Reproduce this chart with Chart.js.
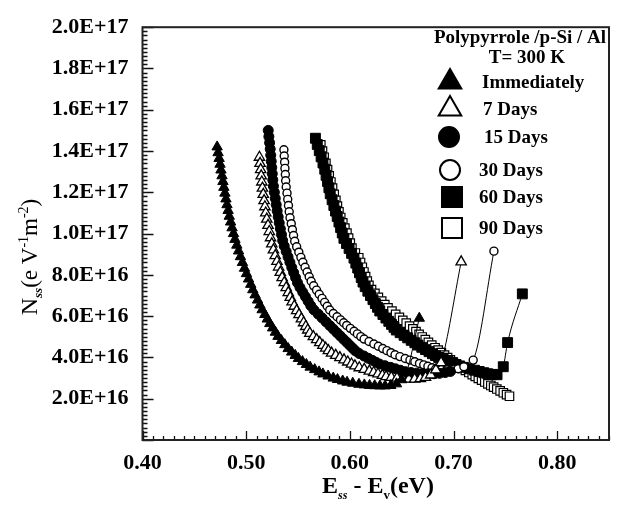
<!DOCTYPE html>
<html><head><meta charset="utf-8">
<script src="https://cdn.jsdelivr.net/npm/chart.js@4.4.0/dist/chart.umd.min.js"></script>
<style>html,body{margin:0;padding:0;background:#fff;}canvas{display:block;}</style>
</head><body>
<canvas id="c" width="617" height="506"></canvas>
<script>
// ---------- DATA (y values in units of 1E+16 eV^-1 m^-2) ----------
const UNIT = 1e16;
const seriesNames = ["Immediately", "7 Days", "15 Days", "30 Days", "60 Days", "90 Days"];

const immX = [0.4720,0.4729,0.4739,0.4748,0.4757,0.4767,0.4776,0.4785,0.4795,0.4805,0.4815,0.4826,0.4837,0.4850,0.4864,0.4878,0.4892,0.4910,0.4927,0.4945,0.4964,0.4984,0.5003,0.5023,0.5044,0.5064,0.5086,0.5110,0.5132,0.5154,0.5180,0.5204,0.5228,0.5255,0.5282,0.5307,0.5340,0.5373,0.5405,0.5439,0.5473,0.5504,0.5543,0.5581,0.5617,0.5661,0.5703,0.5740,0.5790,0.5840,0.5881,0.5931,0.5973,0.6028,0.6088,0.6140,0.6190,0.6240,0.6290,0.6340,0.6395,0.6450,0.6500,0.6545,0.6670];
const immY = [14.20,13.92,13.64,13.36,13.08,12.80,12.52,12.24,11.96,11.68,11.40,11.12,10.84,10.56,10.28,10.00,9.72,9.44,9.16,8.88,8.60,8.32,8.06,7.80,7.54,7.28,7.03,6.78,6.54,6.31,6.08,5.86,5.64,5.43,5.22,5.02,4.82,4.62,4.43,4.26,4.10,3.95,3.80,3.66,3.53,3.41,3.30,3.20,3.10,3.00,2.93,2.86,2.80,2.75,2.70,2.67,2.645,2.63,2.62,2.62,2.64,2.72,2.92,3.25,5.90];

const d7X = [0.5128,0.5134,0.5140,0.5145,0.5151,0.5157,0.5165,0.5173,0.5181,0.5189,0.5199,0.5211,0.5223,0.5235,0.5247,0.5263,0.5280,0.5297,0.5313,0.5329,0.5347,0.5367,0.5386,0.5406,0.5425,0.5443,0.5464,0.5487,0.5510,0.5533,0.5554,0.5575,0.5594,0.5614,0.5648,0.5680,0.5710,0.5740,0.5767,0.5793,0.5824,0.5864,0.5904,0.5944,0.5980,0.6016,0.6049,0.6091,0.6139,0.6188,0.6230,0.6272,0.6314,0.6350,0.6400,0.6455,0.6510,0.6570,0.6625,0.6680,0.6730,0.6780,0.6830,0.6880,0.7074];
const d7Y = [13.70,13.40,13.10,12.80,12.50,12.20,11.90,11.60,11.30,11.00,10.70,10.40,10.10,9.80,9.50,9.21,8.93,8.65,8.38,8.12,7.87,7.62,7.38,7.14,6.91,6.69,6.48,6.27,6.07,5.87,5.68,5.50,5.33,5.17,5.01,4.86,4.72,4.58,4.45,4.33,4.21,4.10,3.99,3.88,3.78,3.68,3.59,3.50,3.42,3.34,3.27,3.20,3.13,3.07,3.03,3.00,2.97,2.95,2.95,2.97,3.03,3.15,3.40,3.75,8.63];

const d15X = [0.5213,0.5219,0.5226,0.5232,0.5237,0.5242,0.5247,0.5252,0.5257,0.5263,0.5272,0.5281,0.5290,0.5299,0.5309,0.5319,0.5330,0.5341,0.5352,0.5367,0.5386,0.5404,0.5422,0.5440,0.5458,0.5477,0.5495,0.5519,0.5546,0.5572,0.5598,0.5623,0.5654,0.5695,0.5733,0.5771,0.5808,0.5842,0.5876,0.5908,0.5940,0.5971,0.5999,0.6027,0.6053,0.6090,0.6136,0.6178,0.6216,0.6251,0.6286,0.6339,0.6393,0.6440,0.6487,0.6535,0.6590,0.6645,0.6700,0.6755,0.6810,0.6865,0.6920,0.6970];
const d15Y = [15.00,14.70,14.40,14.10,13.80,13.50,13.20,12.90,12.60,12.30,12.00,11.70,11.40,11.10,10.81,10.52,10.23,9.95,9.67,9.40,9.13,8.87,8.61,8.36,8.11,7.86,7.62,7.39,7.16,6.94,6.72,6.51,6.30,6.10,5.91,5.72,5.54,5.37,5.20,5.04,4.88,4.73,4.59,4.45,4.32,4.19,4.07,3.96,3.86,3.77,3.68,3.60,3.52,3.45,3.38,3.31,3.27,3.24,3.22,3.21,3.21,3.23,3.27,3.32];

const d30X = [0.5364,0.5367,0.5371,0.5374,0.5378,0.5381,0.5386,0.5394,0.5401,0.5408,0.5415,0.5423,0.5435,0.5446,0.5457,0.5468,0.5487,0.5508,0.5528,0.5547,0.5568,0.5588,0.5608,0.5627,0.5651,0.5679,0.5705,0.5732,0.5757,0.5782,0.5806,0.5841,0.5877,0.5910,0.5941,0.5970,0.6005,0.6041,0.6073,0.6106,0.6138,0.6185,0.6232,0.6275,0.6318,0.6358,0.6397,0.6436,0.6483,0.6534,0.6580,0.6627,0.6672,0.6713,0.6753,0.6793,0.6828,0.6880,0.6935,0.6990,0.7045,0.7100,0.7190,0.7390];
const d30Y = [14.06,13.76,13.46,13.16,12.86,12.56,12.26,11.96,11.66,11.36,11.06,10.77,10.48,10.19,9.91,9.63,9.36,9.10,8.85,8.61,8.37,8.14,7.91,7.69,7.47,7.26,7.06,6.86,6.67,6.48,6.30,6.13,5.97,5.82,5.68,5.55,5.41,5.27,5.14,5.01,4.89,4.77,4.65,4.54,4.43,4.33,4.23,4.13,4.04,3.95,3.87,3.79,3.71,3.64,3.57,3.50,3.44,3.41,3.40,3.41,3.45,3.55,3.87,9.15];

const d60X = [0.5668,0.5686,0.5705,0.5723,0.5741,0.5758,0.5771,0.5785,0.5798,0.5811,0.5829,0.5846,0.5862,0.5878,0.5895,0.5911,0.5927,0.5943,0.5968,0.5993,0.6017,0.6040,0.6058,0.6076,0.6093,0.6110,0.6127,0.6148,0.6174,0.6199,0.6223,0.6246,0.6267,0.6289,0.6319,0.6348,0.6376,0.6402,0.6426,0.6448,0.6485,0.6523,0.6558,0.6592,0.6627,0.6658,0.6694,0.6730,0.6764,0.6797,0.6827,0.6857,0.6901,0.6946,0.6985,0.7025,0.7059,0.7099,0.7151,0.7203,0.7248,0.7292,0.7330,0.7375,0.7420,0.7480,0.7522,0.7664];
const d60Y = [14.62,14.32,14.02,13.72,13.42,13.12,12.82,12.52,12.22,11.93,11.64,11.36,11.09,10.83,10.56,10.29,10.03,9.77,9.52,9.28,9.04,8.81,8.57,8.33,8.10,7.87,7.65,7.43,7.21,7.00,6.80,6.61,6.43,6.25,6.08,5.91,5.75,5.60,5.46,5.33,5.20,5.07,4.95,4.83,4.71,4.60,4.49,4.38,4.28,4.18,4.09,4.00,3.91,3.82,3.74,3.66,3.59,3.52,3.45,3.38,3.32,3.26,3.21,3.18,3.16,3.55,4.72,7.08];

const d90X = [0.5720,0.5736,0.5752,0.5769,0.5785,0.5801,0.5817,0.5833,0.5849,0.5865,0.5880,0.5895,0.5912,0.5932,0.5952,0.5972,0.5988,0.6004,0.6020,0.6053,0.6086,0.6103,0.6120,0.6136,0.6152,0.6168,0.6184,0.6209,0.6242,0.6275,0.6307,0.6337,0.6368,0.6406,0.6442,0.6478,0.6511,0.6544,0.6576,0.6608,0.6638,0.6668,0.6698,0.6728,0.6758,0.6790,0.6822,0.6852,0.6883,0.6913,0.6943,0.6970,0.6998,0.7023,0.7050,0.7083,0.7115,0.7148,0.7181,0.7210,0.7240,0.7271,0.7302,0.7332,0.7360,0.7387,0.7418,0.7450,0.7481,0.7512,0.7540];
const d90Y = [14.30,14.00,13.70,13.40,13.10,12.80,12.50,12.20,11.90,11.61,11.33,11.05,10.78,10.52,10.27,10.02,9.78,9.54,9.30,9.06,8.83,8.60,8.37,8.14,7.92,7.70,7.49,7.29,7.10,6.91,6.73,6.56,6.40,6.24,6.09,5.94,5.80,5.66,5.52,5.38,5.25,5.12,4.99,4.86,4.73,4.60,4.47,4.35,4.23,4.11,3.99,3.88,3.77,3.67,3.57,3.47,3.37,3.27,3.17,3.08,2.99,2.90,2.81,2.72,2.64,2.56,2.47,2.38,2.29,2.20,2.12];

const xTickValues = [0.40, 0.50, 0.60, 0.70, 0.80];
const yTickValues = [0, 2e16, 4e16, 6e16, 8e16, 1e17, 1.2e17, 1.4e17, 1.6e17, 1.8e17, 2e17];
const legendTitle1 = "Polypyrrole /p-Si / Al";
const legendTitle2 = "T= 300 K";

// ---------- build ----------
const allX = [immX, d7X, d15X, d30X, d60X, d90X];
const allY = [immY, d7Y, d15Y, d30Y, d60Y, d90Y];
const styles = [
  {ps:'triangle', r:6,  bg:'#000', bw:1},
  {ps:'triangle', r:6,  bg:'#fff', bw:1.3},
  {ps:'circle',   r:5,  bg:'#000', bw:1},
  {ps:'circle',   r:4,  bg:'#fff', bw:1.4},
  {ps:'rect',     r:7,  bg:'#000', bw:1},
  {ps:'rect',     r:6,  bg:'#fff', bw:1.2}
];
const datasets = seriesNames.map((name, i) => ({
  label: name,
  data: allX[i].map((x, j) => ({x: x, y: allY[i][j] * UNIT})),
  showLine: true,
  borderColor: '#000',
  borderWidth: 1,
  cubicInterpolationMode: 'monotone',
  pointStyle: styles[i].ps,
  pointRadius: styles[i].r,
  pointBackgroundColor: styles[i].bg,
  pointBorderColor: '#000',
  pointBorderWidth: styles[i].bw
}));

function drawSegs(ctx, segs, cx, baseY) {
  let total = 0;
  segs.forEach(s => { ctx.font = s.f; s.w = ctx.measureText(s.t).width; total += s.w; });
  let x = cx - total / 2;
  ctx.textAlign = 'left'; ctx.textBaseline = 'alphabetic';
  segs.forEach(s => { ctx.font = s.f; ctx.fillText(s.t, x, baseY + (s.dy || 0)); x += s.w; });
}

function legendMarker(ctx, st, x, y) {
  ctx.save();
  ctx.fillStyle = st.bg; ctx.strokeStyle = '#000'; ctx.lineWidth = 2;
  ctx.beginPath();
  if (st.ps === 'triangle') {
    const r = 13;
    ctx.moveTo(x, y - r);
    ctx.lineTo(x + r * 0.866, y + r * 0.5);
    ctx.lineTo(x - r * 0.866, y + r * 0.5);
    ctx.closePath();
  } else if (st.ps === 'circle') {
    ctx.arc(x, y, 10, 0, Math.PI * 2);
  } else {
    ctx.rect(x - 10, y - 10, 20, 20);
  }
  ctx.fill(); ctx.stroke();
  ctx.restore();
}

const decor = {
  id: 'decor',
  afterDraw(chart) {
    const {ctx, chartArea: a, scales: {x, y}} = chart;
    ctx.save();
    ctx.strokeStyle = '#111';
    ctx.lineWidth = 1.3;
    ctx.beginPath();
    for (let i = 0; i <= 45; i++) {
      const v = 0.40 + i * 0.01;
      const px = Math.round(x.getPixelForValue(v)) + 0.5;
      const len = (i % 10 === 0) ? 9 : 4;
      ctx.moveTo(px, a.bottom); ctx.lineTo(px, a.bottom - len);
    }
    for (let i = 0; i <= 100; i++) {
      const v = i * 2e15;
      const py = Math.round(y.getPixelForValue(v)) + 0.5;
      const len = (i % 10 === 0) ? 11 : 5;
      ctx.moveTo(a.left, py); ctx.lineTo(a.left + len, py);
    }
    ctx.stroke();
    ctx.lineWidth = 2;
    ctx.strokeStyle = '#222';
    ctx.strokeRect(a.left, a.top, a.right - a.left, a.bottom - a.top);

    ctx.fillStyle = '#000';
    drawSegs(ctx, [
      {t:'E', f:'bold 24px "Liberation Serif"'},
      {t:'ss', f:'italic bold 12px "Liberation Serif"', dy:6},
      {t:' - E', f:'bold 24px "Liberation Serif"'},
      {t:'v', f:'bold 13px "Liberation Serif"', dy:6},
      {t:'(eV)', f:'bold 24px "Liberation Serif"'}
    ], 378, 493);
    ctx.save();
    ctx.translate(37, 257);
    ctx.rotate(-Math.PI / 2);
    drawSegs(ctx, [
      {t:'N', f:'24px "Liberation Serif"'},
      {t:'ss', f:'italic bold 13px "Liberation Serif"', dy:5},
      {t:'(e V', f:'23px "Liberation Serif"'},
      {t:'-1', f:'14px "Liberation Serif"', dy:-9},
      {t:'m', f:'23px "Liberation Serif"'},
      {t:'-2', f:'14px "Liberation Serif"', dy:-9},
      {t:')', f:'23px "Liberation Serif"'}
    ], 0, 0);
    ctx.restore();

    ctx.font = 'bold 19px "Liberation Serif"';
    ctx.textAlign = 'center'; ctx.textBaseline = 'middle';
    ctx.fillText(legendTitle1, 520, 38);
    ctx.fillText(legendTitle2, 527, 58);
    const rowsY = [82, 109, 137, 170, 197, 228];
    const markX = [450, 450, 449, 450, 452, 452];
    const textX = [482, 483, 484, 479, 479, 479];
    seriesNames.forEach((n, i) => {
      legendMarker(ctx, styles[i], markX[i], rowsY[i]);
      ctx.fillStyle = '#000';
      ctx.font = 'bold 19px "Liberation Serif"';
      ctx.textAlign = 'left'; ctx.textBaseline = 'middle';
      ctx.fillText(n, textX[i], rowsY[i] + 1);
    });
    ctx.restore();
  }
};

const tickFont = {family: 'Liberation Serif', size: 22, weight: 'bold'};
new Chart(document.getElementById('c').getContext('2d'), {
  type: 'scatter',
  data: {datasets},
  options: {
    responsive: false, animation: false, devicePixelRatio: 1,
    layout: {padding: {top: 16, right: 2, left: 0, bottom: 0}},
    plugins: {legend: {display: false}, tooltip: {enabled: false}},
    scales: {
      x: {
        type: 'linear', min: 0.40, max: 0.85,
        afterBuildTicks: s => { s.ticks = xTickValues.map(v => ({value: v})); },
        afterFit: s => { s.height = 66; },
        grid: {display: false, drawTicks: false},
        border: {display: false},
        ticks: {padding: 10, color: '#000', font: tickFont, maxRotation: 0, autoSkip: false,
                callback: v => Number(v).toFixed(2)}
      },
      y: {
        type: 'linear', min: 0, max: 2e17,
        afterBuildTicks: s => { s.ticks = yTickValues.map(v => ({value: v})); },
        afterFit: s => { s.width = 142.5; },
        grid: {display: false, drawTicks: false},
        border: {display: false},
        ticks: {padding: 14, color: '#000', font: tickFont, autoSkip: false,
                callback: v => v === 0 ? '' : Number(v).toExponential(1).toUpperCase()}
      }
    }
  },
  plugins: [decor]
});
</script>
</body></html>
